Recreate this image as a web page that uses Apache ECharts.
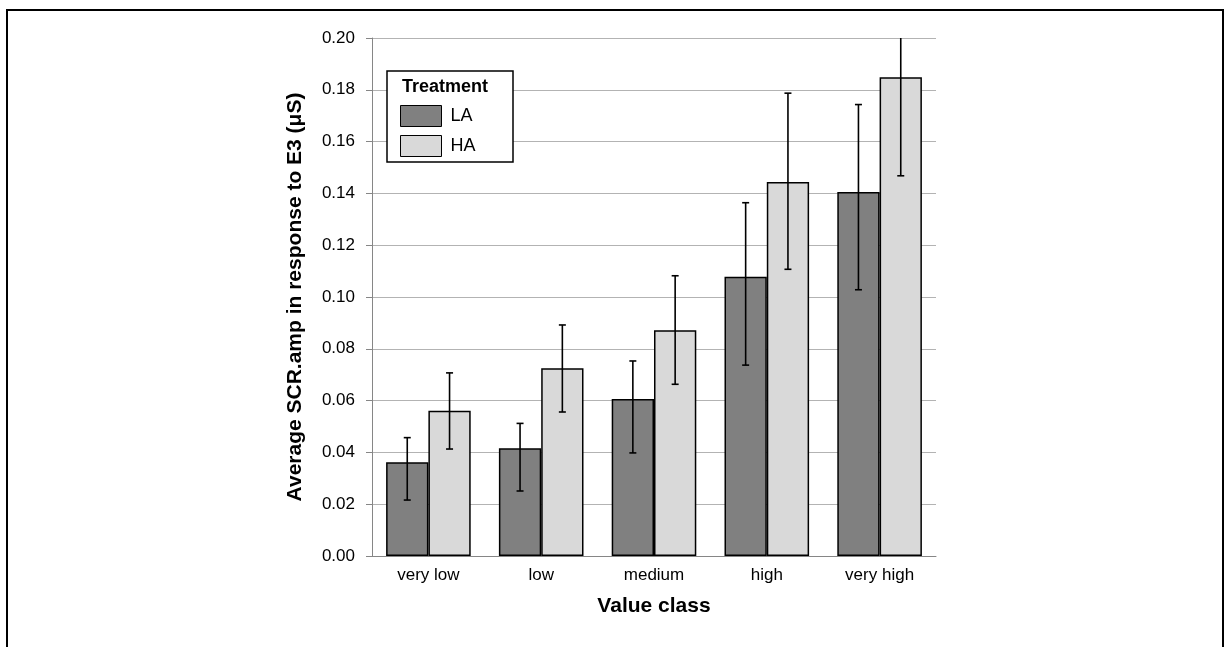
<!DOCTYPE html>
<html>
<head>
<meta charset="utf-8">
<script src="https://cdn.jsdelivr.net/npm/echarts@6/dist/echarts.min.js"></script>
<style>html,body{margin:0;padding:0;background:#fff}#c{width:1225px;height:647px}</style>
</head>
<body>
<div id="c"></div>
<script>
var categories = ['very low', 'low', 'medium', 'high', 'very high'];
var seriesNames = ['LA', 'HA'];
var laValues = [0.0362, 0.0416, 0.0606, 0.1078, 0.1405];
var haValues = [0.0561, 0.0725, 0.0872, 0.1444, 0.1848];
var laErrLow = [0.0216, 0.0251, 0.0398, 0.0737, 0.1028];
var laErrHigh = [0.0457, 0.0512, 0.0753, 0.1364, 0.1743];
var haErrLow = [0.0413, 0.0556, 0.0663, 0.1107, 0.1468];
var haErrHigh = [0.0707, 0.0892, 0.1082, 0.1787, 0.2230];
var yTicks = { min: 0, max: 0.2, interval: 0.02 };

var FONT = '"Liberation Sans", Arial, sans-serif';
var CAT_GAP = 0.25;

function errSeries(low, high, idx) {
  var data = low.map(function (l, i) { return [i, l, high[i]]; });
  return {
    type: 'custom',
    clip: true,
    z: 10,
    silent: true,
    data: data,
    encode: { x: 0, y: [1, 2] },
    renderItem: function (params, api) {
      var ci = api.value(0);
      var pLow = api.coord([ci, api.value(1)]);
      var pHigh = api.coord([ci, api.value(2)]);
      var bandW = api.size([1, 0])[0];
      var barW = bandW * (1 - CAT_GAP) / 2;
      var x = pLow[0] + (idx === 0 ? -barW / 2 : barW / 2);
      var cap = 3.5;
      var style = { stroke: '#000', lineWidth: 1.6 };
      return {
        type: 'group',
        children: [
          { type: 'line', shape: { x1: x, y1: pLow[1], x2: x, y2: pHigh[1] }, style: style },
          { type: 'line', shape: { x1: x - cap, y1: pLow[1], x2: x + cap, y2: pLow[1] }, style: style },
          { type: 'line', shape: { x1: x - cap, y1: pHigh[1], x2: x + cap, y2: pHigh[1] }, style: style }
        ]
      };
    }
  };
}

var chart = echarts.init(document.getElementById('c'), null, { renderer: 'canvas' });
chart.setOption({
  animation: false,
  backgroundColor: '#fff',
  grid: { left: 372, right: 289, top: 38, bottom: 91, containLabel: false },
  legend: {
    orient: 'vertical',
    left: 400,
    top: 105,
    icon: 'rect',
    itemWidth: 41,
    itemHeight: 21,
    itemGap: 8,
    padding: 0,
    data: seriesNames,
    textStyle: { fontFamily: FONT, fontSize: 18, color: '#000', padding: [0, 0, 0, 4] },
    itemStyle: { borderColor: '#000', borderWidth: 1 }
  },
  graphic: [
    { type: 'rect', shape: { x: 7, y: 10, width: 1216, height: 700 }, style: { fill: 'none', stroke: '#000', lineWidth: 2 }, z: 100 },
    { type: 'rect', shape: { x: 387, y: 71, width: 126, height: 91 }, style: { fill: '#fff', stroke: '#000', lineWidth: 1.5 }, z: 1 },
    { type: 'text', left: 402, top: 78, style: { text: 'Treatment', font: 'bold 18px ' + FONT, fill: '#000' }, z: 101 }
  ],
  xAxis: {
    type: 'category',
    data: categories,
    name: 'Value class',
    nameLocation: 'middle',
    nameGap: 40,
    nameTextStyle: { fontFamily: FONT, fontSize: 21, fontWeight: 'bold', color: '#000' },
    axisLine: { lineStyle: { color: '#868686', width: 1 } },
    axisTick: { show: false },
    axisLabel: { fontFamily: FONT, fontSize: 17, color: '#000', margin: 11 },
    splitLine: { show: false }
  },
  yAxis: {
    type: 'value',
    min: yTicks.min,
    max: yTicks.max,
    interval: yTicks.interval,
    name: 'Average SCR.amp in response to E3 (μS)',
    nameLocation: 'middle',
    nameGap: 66,
    nameRotate: 90,
    nameTextStyle: { fontFamily: FONT, fontSize: 21, fontWeight: 'bold', color: '#000' },
    axisLine: { show: true, lineStyle: { color: '#868686', width: 1 } },
    axisTick: { show: true, inside: false, length: 6, lineStyle: { color: '#868686' } },
    axisLabel: { fontFamily: FONT, fontSize: 17, color: '#000', margin: 17, formatter: function (v) { return v.toFixed(2); } },
    splitLine: { show: true, lineStyle: { color: '#b3b3b3', width: 1 } }
  },
  series: [
    {
      name: 'LA', type: 'bar', data: laValues, barGap: '0%', barCategoryGap: (CAT_GAP * 100) + '%',
      itemStyle: { color: '#808080', borderColor: '#000', borderWidth: 1.5 }
    },
    {
      name: 'HA', type: 'bar', data: haValues, barGap: '0%', barCategoryGap: (CAT_GAP * 100) + '%',
      itemStyle: { color: '#d9d9d9', borderColor: '#000', borderWidth: 1.5 }
    },
    errSeries(laErrLow, laErrHigh, 0),
    errSeries(haErrLow, haErrHigh, 1)
  ]
});
</script>
</body>
</html>
